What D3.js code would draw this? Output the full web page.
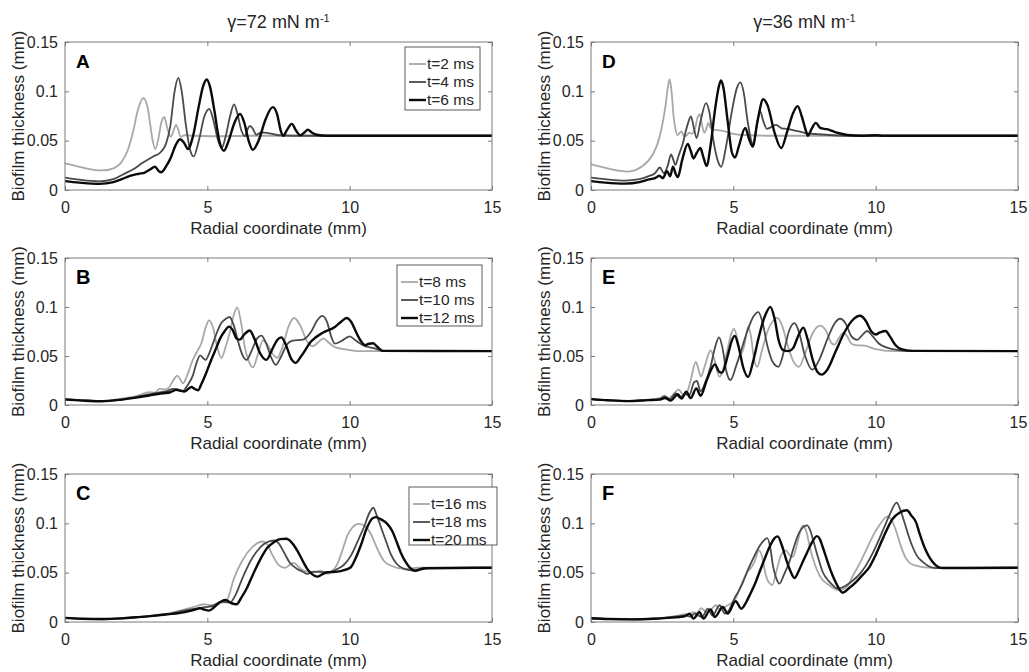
<!DOCTYPE html>
<html>
<head>
<meta charset="utf-8">
<script src="https://cdn.jsdelivr.net/npm/d3@7"></script>
<style>
  body { margin: 0; background: #fff; }
  svg { display: block; }
  text { font-family: "Liberation Sans", Arial, sans-serif; fill: #262626; }
</style>
</head>
<body>
<svg id="chart" width="1029" height="672"></svg>
<script>
// ---- Axis ticks and labels ----
const xTicks = [0, 5, 10, 15];
const xTickLabels = ["0", "5", "10", "15"];
const yTicks = [0, 0.05, 0.1, 0.15];
const yTickLabels = ["0", "0.05", "0.1", "0.15"];
const xTitle = "Radial coordinate (mm)";
const yTitle = "Biofilm thickness (mm)";
const columnTitles = ["γ=72 mN m", "γ=36 mN m"];
const columnTitleSup = "-1";
const panelLetters = ["A", "B", "C", "D", "E", "F"];
const legendTop = ["t=2 ms", "t=4 ms", "t=6 ms"];
const legendMid = ["t=8 ms", "t=10 ms", "t=12 ms"];
const legendBot = ["t=16 ms", "t=18 ms", "t=20 ms"];

// ---- Film thickness profiles [radial coordinate (mm), thickness (mm)] ----
// gamma = 72 mN/m, early times
const a_t2 = [[0,0.027],[0.5,0.0235],[1.0,0.0205],[1.3,0.0198],[1.7,0.022],[2.0,0.029],[2.2,0.04],[2.4,0.06],[2.55,0.08],[2.75,0.093],[2.9,0.084],[3.0,0.065],[3.08,0.05],[3.17,0.0415],[3.28,0.052],[3.38,0.068],[3.48,0.074],[3.6,0.062],[3.72,0.054],[3.82,0.061],[3.9,0.066],[3.98,0.061],[4.06,0.054],[4.2,0.0555],[4.5,0.055],[5.2,0.0545],[6.5,0.055],[15,0.055]];
const a_t4 = [[0,0.0126],[0.5,0.0105],[1.2,0.0088],[1.7,0.011],[2.05,0.016],[2.4,0.021],[2.7,0.027],[3.1,0.034],[3.35,0.038],[3.55,0.047],[3.7,0.065],[3.85,0.1],[3.98,0.1136],[4.1,0.1],[4.25,0.065],[4.4,0.04],[4.52,0.034],[4.7,0.05],[4.9,0.075],[5.07,0.0823],[5.2,0.072],[5.38,0.05],[5.5,0.0425],[5.65,0.055],[5.8,0.075],[5.94,0.0867],[6.05,0.078],[6.2,0.06],[6.32,0.0545],[6.42,0.062],[6.5,0.065],[6.6,0.062],[6.72,0.056],[6.9,0.0585],[7.1,0.058],[7.5,0.0555],[8.0,0.055],[15,0.055]];
const a_t6 = [[0,0.009],[0.5,0.0075],[1.2,0.0062],[1.7,0.008],[2.0,0.011],[2.28,0.0143],[2.6,0.0165],[2.8,0.0177],[3.0,0.021],[3.16,0.0235],[3.3,0.019],[3.38,0.018],[3.55,0.024],[3.72,0.033],[3.88,0.045],[4.04,0.0515],[4.18,0.048],[4.32,0.0415],[4.5,0.055],[4.7,0.085],[4.85,0.105],[4.98,0.112],[5.1,0.104],[5.25,0.08],[5.42,0.05],[5.58,0.0398],[5.75,0.05],[5.95,0.068],[6.15,0.077],[6.3,0.068],[6.45,0.05],[6.6,0.0408],[6.8,0.05],[7.05,0.072],[7.3,0.084],[7.45,0.077],[7.58,0.06],[7.67,0.055],[7.8,0.061],[7.97,0.067],[8.12,0.06],[8.26,0.0555],[8.4,0.058],[8.53,0.061],[8.68,0.058],[8.84,0.056],[9.2,0.055],[15,0.055]];
// gamma = 72 mN/m, intermediate times
const b_t8 = [[0,0.0065],[0.6,0.005],[1.3,0.0042],[2.0,0.0065],[2.5,0.009],[2.97,0.013],[3.15,0.0125],[3.32,0.0165],[3.5,0.016],[3.62,0.017],[3.8,0.025],[3.94,0.030],[4.05,0.026],[4.14,0.022],[4.3,0.031],[4.49,0.046],[4.65,0.055],[4.79,0.063],[4.95,0.08],[5.06,0.0864],[5.2,0.079],[5.34,0.06],[5.49,0.048],[5.65,0.06],[5.78,0.073],[5.93,0.092],[6.05,0.0997],[6.18,0.085],[6.31,0.06],[6.45,0.045],[6.6,0.0384],[6.78,0.052],[6.95,0.066],[7.1,0.062],[7.3,0.052],[7.45,0.048],[7.65,0.06],[7.85,0.08],[8.05,0.0888],[8.25,0.082],[8.5,0.065],[8.7,0.06],[8.9,0.064],[9.07,0.068],[9.25,0.064],[9.48,0.059],[9.9,0.0565],[10.35,0.055],[15,0.055]];
const b_t10 = [[0,0.006],[0.6,0.0048],[1.3,0.004],[2.0,0.0058],[2.5,0.008],[3.0,0.011],[3.32,0.013],[3.6,0.0145],[3.79,0.0165],[3.95,0.016],[4.14,0.0145],[4.3,0.02],[4.49,0.030],[4.62,0.043],[4.75,0.0507],[4.85,0.048],[4.94,0.046],[5.07,0.053],[5.2,0.063],[5.35,0.075],[5.49,0.0837],[5.65,0.088],[5.78,0.0898],[5.92,0.082],[6.07,0.066],[6.22,0.052],[6.38,0.046],[6.55,0.055],[6.75,0.068],[6.9,0.0707],[7.05,0.064],[7.25,0.048],[7.4,0.041],[7.6,0.05],[7.8,0.062],[8.0,0.0656],[8.36,0.0667],[8.65,0.075],[8.85,0.086],[9.04,0.091],[9.2,0.085],[9.35,0.07],[9.48,0.0626],[9.7,0.065],[10.0,0.070],[10.2,0.066],[10.5,0.0605],[10.85,0.058],[11.2,0.0552],[15,0.055]];
const b_t12 = [[0,0.0055],[0.6,0.0045],[1.3,0.0038],[2.0,0.0055],[2.5,0.0075],[3.0,0.01],[3.44,0.012],[3.7,0.013],[3.91,0.0156],[4.05,0.0145],[4.2,0.0138],[4.44,0.0184],[4.55,0.0165],[4.67,0.015],[4.8,0.022],[4.96,0.0327],[5.15,0.047],[5.31,0.058],[5.45,0.068],[5.6,0.075],[5.76,0.080],[5.9,0.076],[6.02,0.068],[6.14,0.0667],[6.3,0.072],[6.49,0.076],[6.65,0.068],[6.85,0.053],[7.07,0.046],[7.3,0.058],[7.45,0.066],[7.6,0.069],[7.75,0.062],[7.95,0.047],[8.1,0.043],[8.3,0.05],[8.65,0.065],[9.07,0.074],[9.48,0.0796],[9.7,0.085],[9.89,0.0888],[10.05,0.085],[10.24,0.0735],[10.4,0.065],[10.54,0.061],[10.68,0.0625],[10.82,0.063],[10.95,0.06],[11.16,0.0552],[15,0.055]];
// gamma = 72 mN/m, late times
const c_t16 = [[0,0.0042],[0.6,0.0033],[1.3,0.003],[2.0,0.0038],[2.5,0.005],[3.0,0.0065],[3.6,0.0085],[4.17,0.0125],[4.5,0.015],[4.88,0.018],[5.1,0.0172],[5.29,0.018],[5.5,0.0195],[5.7,0.023],[5.93,0.0437],[6.23,0.0623],[6.58,0.0758],[6.93,0.0816],[7.1,0.079],[7.3,0.067],[7.5,0.058],[7.73,0.0548],[7.9,0.058],[8.04,0.06],[8.2,0.056],[8.39,0.052],[8.75,0.0504],[8.98,0.052],[9.22,0.0487],[9.4,0.052],[9.57,0.059],[9.75,0.073],[9.92,0.0877],[10.1,0.096],[10.33,0.0995],[10.55,0.097],[10.74,0.0894],[10.9,0.079],[11.03,0.0707],[11.2,0.062],[11.44,0.0572],[11.91,0.0538],[12.4,0.055],[15,0.055]];
const c_t18 = [[0,0.004],[0.6,0.0032],[1.3,0.0028],[2.0,0.0036],[2.5,0.0048],[3.0,0.006],[3.6,0.008],[4.17,0.0115],[4.6,0.0135],[4.9,0.015],[5.23,0.0166],[5.4,0.02],[5.53,0.0206],[5.7,0.0198],[5.81,0.02],[6.0,0.028],[6.17,0.04],[6.35,0.052],[6.52,0.062],[6.75,0.072],[6.99,0.079],[7.2,0.082],[7.36,0.0826],[7.5,0.08],[7.69,0.0707],[7.9,0.06],[8.16,0.0538],[8.35,0.051],[8.51,0.0487],[8.75,0.051],[9.1,0.0504],[9.35,0.051],[9.57,0.0538],[9.8,0.058],[10.04,0.067],[10.3,0.083],[10.5,0.096],[10.7,0.111],[10.83,0.1158],[10.95,0.108],[11.14,0.0927],[11.3,0.08],[11.44,0.069],[11.65,0.059],[11.91,0.0538],[12.26,0.052],[12.6,0.0548],[15,0.055]];
const c_t20 = [[0,0.0042],[0.6,0.0033],[1.3,0.003],[2.0,0.0037],[2.5,0.0048],[3.0,0.006],[3.6,0.0078],[4.17,0.0098],[4.5,0.012],[4.76,0.0139],[4.9,0.0125],[5.05,0.0115],[5.2,0.014],[5.35,0.018],[5.5,0.021],[5.64,0.0223],[5.85,0.019],[6.03,0.018],[6.2,0.025],[6.4,0.035],[6.6,0.048],[6.87,0.064],[7.1,0.075],[7.34,0.081],[7.55,0.084],[7.78,0.0843],[7.95,0.081],[8.16,0.0724],[8.35,0.062],[8.51,0.0538],[8.7,0.048],[8.86,0.046],[9.05,0.0485],[9.22,0.0504],[9.57,0.051],[9.8,0.0525],[10.04,0.0555],[10.2,0.064],[10.39,0.0775],[10.6,0.095],[10.8,0.105],[10.92,0.1063],[11.1,0.104],[11.32,0.0995],[11.5,0.092],[11.61,0.0843],[11.8,0.07],[11.97,0.0606],[12.15,0.054],[12.32,0.052],[12.5,0.0535],[12.73,0.0545],[15,0.055]];
// gamma = 36 mN/m, early times
const d_t2 = [[0,0.026],[0.5,0.0225],[1.0,0.0195],[1.3,0.0187],[1.82,0.0245],[2.17,0.036],[2.35,0.048],[2.46,0.06],[2.61,0.084],[2.7,0.104],[2.76,0.112],[2.83,0.1],[2.9,0.075],[2.96,0.063],[3.04,0.0555],[3.12,0.058],[3.18,0.0595],[3.26,0.0545],[3.35,0.055],[3.45,0.058],[3.55,0.057],[3.65,0.062],[3.75,0.074],[3.82,0.077],[3.9,0.066],[3.98,0.058],[4.05,0.062],[4.12,0.068],[4.2,0.063],[4.35,0.061],[4.63,0.06],[5.0,0.057],[5.5,0.0555],[6.2,0.055],[15,0.055]];
const d_t4 = [[0,0.0126],[0.5,0.011],[1.2,0.0095],[1.7,0.011],[2.05,0.0143],[2.25,0.017],[2.42,0.0228],[2.56,0.017],[2.7,0.025],[2.81,0.036],[2.9,0.03],[2.96,0.0255],[3.08,0.035],[3.22,0.0466],[3.38,0.065],[3.51,0.0745],[3.62,0.062],[3.71,0.0527],[3.85,0.07],[4.04,0.088],[4.15,0.08],[4.3,0.05],[4.45,0.03],[4.57,0.0235],[4.75,0.045],[4.95,0.08],[5.12,0.103],[5.25,0.109],[5.37,0.098],[5.5,0.07],[5.7,0.046],[5.82,0.065],[5.94,0.08],[6.05,0.07],[6.18,0.062],[6.35,0.064],[6.5,0.066],[6.7,0.0625],[6.9,0.062],[7.2,0.06],[7.5,0.058],[8.0,0.0565],[8.5,0.0555],[9.0,0.055],[15,0.055]];
const d_t6 = [[0,0.009],[0.5,0.0075],[1.2,0.0065],[1.7,0.008],[2.0,0.0105],[2.25,0.012],[2.4,0.0145],[2.52,0.012],[2.67,0.019],[2.78,0.014],[2.88,0.0235],[2.98,0.016],[3.05,0.013],[3.2,0.03],[3.4,0.0466],[3.5,0.04],[3.6,0.032],[3.72,0.038],[3.84,0.0425],[3.95,0.033],[4.06,0.0245],[4.2,0.045],[4.35,0.08],[4.5,0.106],[4.57,0.111],[4.65,0.104],[4.8,0.07],[4.95,0.038],[5.06,0.033],[5.2,0.045],[5.42,0.063],[5.55,0.052],[5.68,0.044],[5.85,0.07],[6.05,0.092],[6.2,0.086],[6.45,0.058],[6.68,0.0425],[6.9,0.06],[7.1,0.078],[7.26,0.085],[7.4,0.075],[7.55,0.06],[7.62,0.055],[7.75,0.062],[7.9,0.068],[8.05,0.063],[8.2,0.062],[8.37,0.061],[8.55,0.059],[8.72,0.0575],[9.0,0.0558],[9.5,0.055],[10.0,0.0555],[10.3,0.055],[15,0.055]];
// gamma = 36 mN/m, intermediate times
const e_t8 = [[0,0.0065],[0.6,0.005],[1.3,0.0042],[2.0,0.0055],[2.4,0.007],[2.58,0.0095],[2.72,0.007],[2.9,0.011],[3.08,0.016],[3.22,0.011],[3.35,0.012],[3.5,0.025],[3.68,0.0439],[3.78,0.036],[3.86,0.029],[4.0,0.04],[4.2,0.0558],[4.35,0.045],[4.5,0.029],[4.6,0.032],[4.78,0.055],[4.92,0.072],[5.02,0.078],[5.14,0.068],[5.26,0.052],[5.38,0.06],[5.52,0.080],[5.62,0.07],[5.72,0.048],[5.84,0.039],[6.0,0.055],[6.2,0.075],[6.4,0.086],[6.55,0.0888],[6.7,0.082],[6.9,0.062],[7.1,0.045],[7.3,0.039],[7.55,0.055],[7.8,0.074],[8.05,0.081],[8.25,0.076],[8.45,0.063],[8.55,0.0616],[8.7,0.068],[8.86,0.0735],[9.0,0.07],[9.15,0.0625],[9.3,0.061],[9.6,0.0605],[10.0,0.057],[10.6,0.055],[15,0.055]];
const e_t10 = [[0,0.006],[0.6,0.0048],[1.3,0.004],[2.0,0.005],[2.4,0.006],[2.6,0.0085],[2.78,0.006],[2.97,0.012],[3.12,0.0075],[3.3,0.011],[3.45,0.01],[3.62,0.023],[3.72,0.0245],[3.85,0.014],[4.0,0.022],[4.2,0.039],[4.35,0.058],[4.5,0.069],[4.62,0.058],[4.75,0.035],[4.9,0.0255],[5.1,0.04],[5.3,0.058],[5.5,0.076],[5.7,0.09],[5.88,0.0948],[6.02,0.085],[6.2,0.06],[6.4,0.043],[6.58,0.039],[6.78,0.055],[6.95,0.075],[7.15,0.0835],[7.3,0.075],[7.5,0.052],[7.78,0.036],[8.0,0.045],[8.3,0.067],[8.55,0.083],[8.75,0.088],[8.95,0.083],[9.15,0.07],[9.35,0.0665],[9.52,0.071],[9.7,0.0755],[9.9,0.07],[10.1,0.063],[10.4,0.0585],[10.8,0.056],[11.2,0.055],[15,0.055]];
const e_t12 = [[0,0.006],[0.6,0.0048],[1.3,0.004],[2.0,0.005],[2.4,0.0055],[2.6,0.0072],[2.8,0.0045],[3.05,0.011],[3.18,0.0065],[3.35,0.0135],[3.5,0.007],[3.7,0.017],[3.85,0.0095],[4.05,0.024],[4.22,0.036],[4.35,0.0415],[4.5,0.034],[4.6,0.033],[4.8,0.05],[4.95,0.066],[5.05,0.0705],[5.18,0.06],[5.35,0.038],[5.52,0.0286],[5.7,0.045],[5.9,0.07],[6.1,0.09],[6.3,0.1],[6.45,0.088],[6.6,0.065],[6.75,0.056],[6.95,0.055],[7.1,0.058],[7.3,0.072],[7.46,0.079],[7.6,0.068],[7.8,0.045],[7.95,0.034],[8.1,0.031],[8.3,0.036],[8.6,0.055],[8.9,0.074],[9.2,0.087],[9.45,0.091],[9.65,0.086],[9.85,0.075],[10.0,0.072],[10.15,0.074],[10.35,0.0755],[10.5,0.07],[10.7,0.061],[10.9,0.057],[11.3,0.0552],[15,0.055]];
// gamma = 36 mN/m, late times
const f_t16 = [[0,0.0038],[0.6,0.0031],[1.5,0.0028],[2.2,0.0035],[2.7,0.0048],[3.11,0.0068],[3.3,0.008],[3.45,0.0075],[3.58,0.0101],[3.72,0.009],[3.87,0.014],[4.0,0.011],[4.05,0.0105],[4.2,0.012],[4.38,0.017],[4.5,0.0135],[4.57,0.013],[4.75,0.016],[4.87,0.018],[5.04,0.022],[5.2,0.032],[5.34,0.042],[5.5,0.051],[5.6,0.054],[5.74,0.061],[5.9,0.0726],[6.02,0.065],[6.12,0.05],[6.25,0.04],[6.37,0.0375],[6.5,0.05],[6.68,0.068],[6.85,0.0726],[6.97,0.068],[7.09,0.066],[7.25,0.08],[7.44,0.098],[7.55,0.093],[7.73,0.071],[8.03,0.047],[8.38,0.037],[8.73,0.032],[9.0,0.036],[9.2,0.047],[9.45,0.06],[9.66,0.0726],[9.9,0.087],[10.13,0.098],[10.42,0.107],[10.6,0.101],[10.71,0.093],[10.85,0.08],[11.01,0.0676],[11.24,0.059],[11.65,0.0557],[12.0,0.055],[15,0.055]];
const f_t18 = [[0,0.0038],[0.6,0.0031],[1.5,0.0027],[2.2,0.0034],[2.7,0.0045],[3.11,0.006],[3.35,0.0065],[3.5,0.0055],[3.64,0.0085],[3.78,0.0065],[3.9,0.005],[4.1,0.0135],[4.27,0.0065],[4.52,0.017],[4.7,0.0085],[4.85,0.012],[5.04,0.024],[5.2,0.032],[5.34,0.0405],[5.5,0.052],[5.69,0.064],[5.97,0.079],[6.19,0.085],[6.3,0.075],[6.39,0.0574],[6.5,0.045],[6.62,0.0389],[6.78,0.048],[6.97,0.061],[7.15,0.078],[7.32,0.091],[7.59,0.098],[7.7,0.093],[7.79,0.0845],[7.95,0.068],[8.14,0.0507],[8.4,0.04],[8.67,0.0338],[8.9,0.036],[9.2,0.042],[9.45,0.049],[9.66,0.0574],[9.9,0.07],[10.13,0.0845],[10.3,0.096],[10.48,0.108],[10.74,0.121],[10.85,0.115],[11.01,0.101],[11.15,0.088],[11.3,0.076],[11.45,0.067],[11.65,0.061],[11.9,0.056],[12.12,0.0547],[15,0.055]];
const f_t20 = [[0,0.0038],[0.6,0.003],[1.5,0.0027],[2.2,0.0033],[2.7,0.0042],[3.11,0.005],[3.3,0.006],[3.46,0.0085],[3.6,0.0034],[3.81,0.01],[3.95,0.0034],[4.2,0.0128],[4.35,0.005],[4.63,0.0152],[4.8,0.0085],[5.08,0.021],[5.28,0.0135],[5.45,0.02],[5.57,0.027],[5.75,0.038],[5.92,0.0507],[6.1,0.064],[6.27,0.076],[6.45,0.085],[6.56,0.0868],[6.7,0.078],[6.85,0.064],[7.0,0.052],[7.15,0.0446],[7.3,0.052],[7.44,0.061],[7.6,0.071],[7.73,0.079],[7.94,0.087],[8.04,0.084],[8.14,0.076],[8.3,0.062],[8.44,0.0507],[8.6,0.04],[8.84,0.0297],[9.05,0.034],[9.31,0.0405],[9.55,0.048],[9.78,0.0557],[10.0,0.068],[10.25,0.0845],[10.6,0.1047],[10.85,0.111],[11.1,0.1132],[11.25,0.108],[11.42,0.101],[11.55,0.089],[11.71,0.076],[11.9,0.065],[12.06,0.059],[12.35,0.0547],[15,0.055]];

// ---- Layout ----
const colX = [[65, 492], [591, 1018]];
const rowY = [[42, 190], [258, 405], [474, 622]];
const seriesStyle = [
  { color: "#a8a8a8", width: 1.8 },
  { color: "#4a4a4a", width: 1.8 },
  { color: "#0a0a0a", width: 2.4 }
];

const panels = [
  { letter: panelLetters[0], col: 0, row: 0, series: [a_t2, a_t4, a_t6], legend: legendTop, letterFont: "Liberation Sans", legendBox: [405, 47, 75, 63] },
  { letter: panelLetters[1], col: 0, row: 1, series: [b_t8, b_t10, b_t12], legend: legendMid, letterFont: "Lato", legendBox: [397, 265, 85, 61] },
  { letter: panelLetters[2], col: 0, row: 2, series: [c_t16, c_t18, c_t20], legend: legendBot, letterFont: "Lato", legendBox: [409, 487, 88, 58] },
  { letter: panelLetters[3], col: 1, row: 0, series: [d_t2, d_t4, d_t6], legend: null, letterFont: "Liberation Sans" },
  { letter: panelLetters[4], col: 1, row: 1, series: [e_t8, e_t10, e_t12], legend: null, letterFont: "Lato" },
  { letter: panelLetters[5], col: 1, row: 2, series: [f_t16, f_t18, f_t20], legend: null, letterFont: "Lato" }
];

const svg = d3.select("#chart");
svg.append("rect").attr("width", 1029).attr("height", 672).attr("fill", "#fff");

// column headers
columnTitles.forEach((t, i) => {
  const cx = (colX[i][0] + colX[i][1]) / 2;
  const txt = svg.append("text")
    .attr("x", cx).attr("y", 28)
    .attr("text-anchor", "middle")
    .attr("font-size", 18);
  txt.append("tspan").text(t);
  txt.append("tspan").attr("font-size", 11).attr("dy", -6).text(columnTitleSup);
});

panels.forEach((p, pi) => {
  const [x0, x1] = colX[p.col];
  const [y0, y1] = rowY[p.row];
  const x = d3.scaleLinear().domain([0, 15]).range([x0, x1]);
  const y = d3.scaleLinear().domain([0, 0.15]).range([y1, y0]);
  const g = svg.append("g");

  const clipId = "clip" + pi;
  g.append("clipPath").attr("id", clipId)
    .append("rect").attr("x", x0).attr("y", y0).attr("width", x1 - x0).attr("height", y1 - y0);

  // profiles
  const line = d3.line().x(d => x(d[0])).y(d => y(d[1])).curve(d3.curveMonotoneX);
  const lines = g.append("g").attr("clip-path", `url(#${clipId})`);
  p.series.forEach((s, si) => {
    lines.append("path")
      .attr("d", line(s))
      .attr("fill", "none")
      .attr("stroke", seriesStyle[si].color)
      .attr("stroke-width", seriesStyle[si].width)
      .attr("stroke-linejoin", "round");
  });

  // axes box
  g.append("rect")
    .attr("x", x0).attr("y", y0).attr("width", x1 - x0).attr("height", y1 - y0)
    .attr("fill", "none").attr("stroke", "#7a7a7a").attr("stroke-width", 1);

  // x axis (bottom) with mirrored ticks on top
  const xAxis = d3.axisBottom(x).tickValues(xTicks)
    .tickFormat((d, i) => xTickLabels[i]).tickSizeInner(-4).tickSizeOuter(0).tickPadding(12);
  const xg = g.append("g").attr("transform", `translate(0,${y1})`).call(xAxis);
  xg.select(".domain").remove();
  xg.selectAll("line").attr("stroke", "#7a7a7a");
  xg.selectAll("text").attr("font-size", 16).attr("fill", "#262626")
    .attr("font-family", "Liberation Sans, Arial, sans-serif");
  const xTop = g.append("g").attr("transform", `translate(0,${y0})`)
    .call(d3.axisTop(x).tickValues(xTicks).tickSizeInner(-4).tickSizeOuter(0).tickFormat(""));
  xTop.select(".domain").remove();
  xTop.selectAll("line").attr("stroke", "#7a7a7a");

  // y axis (left) with mirrored ticks on right
  const yAxis = d3.axisLeft(y).tickValues(yTicks)
    .tickFormat((d, i) => yTickLabels[i]).tickSizeInner(-4).tickSizeOuter(0).tickPadding(7);
  const yg = g.append("g").attr("transform", `translate(${x0},0)`).call(yAxis);
  yg.select(".domain").remove();
  yg.selectAll("line").attr("stroke", "#7a7a7a");
  yg.selectAll("text").attr("font-size", 16).attr("fill", "#262626")
    .attr("font-family", "Liberation Sans, Arial, sans-serif");
  const yRight = g.append("g").attr("transform", `translate(${x1},0)`)
    .call(d3.axisRight(y).tickValues(yTicks).tickSizeInner(-4).tickSizeOuter(0).tickFormat(""));
  yRight.select(".domain").remove();
  yRight.selectAll("line").attr("stroke", "#7a7a7a");

  // axis titles
  g.append("text")
    .attr("x", (x0 + x1) / 2).attr("y", y1 + 44)
    .attr("text-anchor", "middle").attr("font-size", 17)
    .text(xTitle);
  g.append("text")
    .attr("transform", `translate(${x0 - 41},${(y0 + y1) / 2}) rotate(-90)`)
    .attr("text-anchor", "middle").attr("font-size", 17)
    .text(yTitle);

  // panel letter
  g.append("text")
    .attr("x", x0 + 11).attr("y", y0 + 26)
    .attr("font-family", p.letterFont)
    .attr("font-weight", "bold")
    .attr("font-size", p.letterFont === "Lato" ? 20 : 19)
    .style("fill", "#000")
    .text(p.letter);

  // legend
  if (p.legend) {
    const [lx, ly, lw, lh] = p.legendBox;
    const lg = g.append("g");
    lg.append("rect").attr("x", lx).attr("y", ly).attr("width", lw).attr("height", lh)
      .attr("fill", "#fff").attr("stroke", "#5a5a5a").attr("stroke-width", 1);
    p.legend.forEach((label, li) => {
      const cy = ly + 17 + li * 18;
      lg.append("line")
        .attr("x1", lx + 4).attr("x2", lx + 21).attr("y1", cy).attr("y2", cy)
        .attr("stroke", seriesStyle[li].color).attr("stroke-width", seriesStyle[li].width);
      lg.append("text")
        .attr("x", lx + 22).attr("y", cy + 5)
        .attr("font-size", 15.5)
        .text(label);
    });
  }
});
</script>
</body>
</html>
